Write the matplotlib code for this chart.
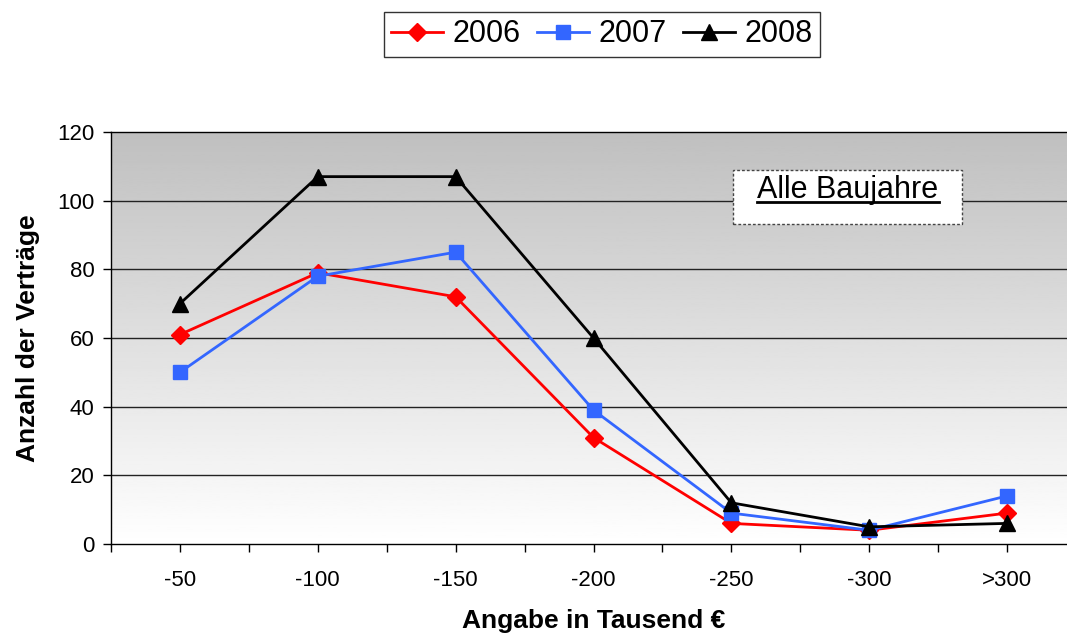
import matplotlib
matplotlib.use("Agg")
import matplotlib.pyplot as plt
from matplotlib.lines import Line2D
from matplotlib.patches import Rectangle
import numpy as np

plt.rcParams['font.family'] = ['Liberation Sans', 'DejaVu Sans']

kategorien = ["-50", "-100", "-150", "-200", "-250", "-300", ">300"]
werte_2006 = [61, 79, 72, 31, 6, 4, 9]
werte_2007 = [50, 78, 85, 39, 9, 4, 14]
werte_2008 = [70, 107, 107, 60, 12, 5, 6]

W, H = 1067, 636
fig = plt.figure(figsize=(W/100, H/100), dpi=100)
ax = fig.add_axes([111/W, 92/H, 965/W, 412/H])

x = np.arange(len(kategorien))

# background gradient: grey on top, white at the bottom
grad = np.linspace(0.75, 1.0, 256).reshape(-1, 1)
ax.imshow(grad, extent=[-0.5, 6.5, 0, 120], aspect='auto', cmap='gray',
          vmin=0, vmax=1, zorder=0, origin='upper')

for yv in range(20, 120, 20):
    ax.axhline(yv, color='#222222', lw=1, zorder=1)

ax.plot(x, werte_2006, color='#ff0000', marker='D', ms=9, lw=2, label='2006', zorder=3)
ax.plot(x, werte_2007, color='#3366ff', marker='s', ms=10, lw=2, label='2007', zorder=3)
ax.plot(x, werte_2008, color='black', marker='^', ms=11, lw=2, label='2008', zorder=3)

ax.set_xlim(-0.5, 6.5)
ax.set_ylim(0, 120)
ax.set_yticks(range(0, 121, 20))
ax.set_xticks(x)
ax.set_xticklabels(kategorien)
ax.set_xticks(np.arange(-0.5, 6.6, 1), minor=True)
ax.tick_params(axis='both', which='both', direction='out', length=6, width=1,
               labelsize=16, color='black')
ax.tick_params(axis='x', which='major', pad=13)
ax.tick_params(axis='y', pad=6)

for s in ax.spines.values():
    s.set_color('black')
    s.set_linewidth(1)

ax.set_xlabel("Angabe in Tausend €", fontsize=19, fontweight='bold', labelpad=13)
ax.set_ylabel("Anzahl der Verträge", fontsize=19, fontweight='bold', labelpad=12)

# "Alle Baujahre" box with dashed border
fig.add_artist(Rectangle((733/W, 1 - 224/H), 229/W, 54/H, transform=fig.transFigure,
                         facecolor='white', edgecolor='#444444',
                         linestyle=(0, (2, 1.5)), lw=1, zorder=5))
t = fig.text(848/W, 1 - 190/H, "Alle Baujahre", fontsize=22,
             ha='center', va='center', zorder=6)
# underline for the label
fig.canvas.draw()
bb = t.get_window_extent(renderer=fig.canvas.get_renderer())
uy = (bb.y0 + 3) / fig.bbox.height
fig.add_artist(Line2D([bb.x0 / fig.bbox.width, bb.x1 / fig.bbox.width], [uy, uy],
                      transform=fig.transFigure, color='black', lw=2, zorder=7))

leg = fig.legend(loc='center', bbox_to_anchor=(602/W, 1 - 34.5/H), ncol=3,
                 fontsize=22, frameon=True, fancybox=False, edgecolor='black',
                 handlelength=1.7, columnspacing=0.55, handletextpad=0.3,
                 borderpad=0.25, borderaxespad=0)
leg.get_frame().set_linewidth(1)

fig.savefig("out.png", dpi=100)
